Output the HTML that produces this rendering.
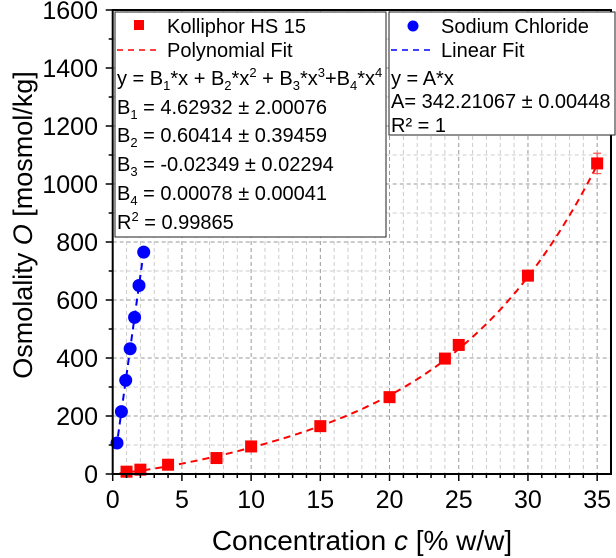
<!DOCTYPE html>
<html><head><meta charset="utf-8">
<style>
html,body{margin:0;padding:0;background:#fff;}
svg{display:block;font-family:"Liberation Sans",Arial,sans-serif;}
</style></head>
<body>
<svg id="chart" width="616" height="558" viewBox="0 0 616 558">
<g id="grid"></g>
<g id="fits"></g>
<g id="marks"></g>
<g id="axes"></g>
<g id="legend1">
  <rect x="115" y="12" width="271" height="225" fill="#fff" stroke="#222" stroke-width="1"/>
  <rect x="134" y="20" width="10" height="10" fill="#f00"/>
  <text x="167" y="33" font-size="20">Kolliphor HS 15</text>
  <line x1="117" y1="50" x2="157" y2="50" stroke="#f00" stroke-width="1.5" stroke-dasharray="6,5"/>
  <text x="167" y="57" font-size="20">Polynomial Fit</text>
  <text x="117" y="85" font-size="20">y = B<tspan font-size="13" dy="5">1</tspan><tspan dy="-5">*x + B</tspan><tspan font-size="13" dy="5">2</tspan><tspan dy="-5">*x</tspan><tspan font-size="13" dy="-8">2</tspan><tspan dy="8"> + B</tspan><tspan font-size="13" dy="5">3</tspan><tspan dy="-5">*x</tspan><tspan font-size="13" dy="-8">3</tspan><tspan dy="8">+B</tspan><tspan font-size="13" dy="5">4</tspan><tspan dy="-5">*x</tspan><tspan font-size="13" dy="-8">4</tspan></text>
  <text x="117" y="114" font-size="20">B<tspan font-size="13" dy="5">1</tspan><tspan dy="-5"> = 4.62932 ± 2.00076</tspan></text>
  <text x="117" y="142" font-size="20">B<tspan font-size="13" dy="5">2</tspan><tspan dy="-5"> = 0.60414 ± 0.39459</tspan></text>
  <text x="117" y="171" font-size="20">B<tspan font-size="13" dy="5">3</tspan><tspan dy="-5"> = -0.02349 ± 0.02294</tspan></text>
  <text x="117" y="200" font-size="20">B<tspan font-size="13" dy="5">4</tspan><tspan dy="-5"> = 0.00078 ± 0.00041</tspan></text>
  <text x="117" y="229" font-size="20">R<tspan font-size="13" dy="-8">2</tspan><tspan dy="8"> = 0.99865</tspan></text>
</g>
<g id="legend2">
  <rect x="389" y="12" width="226" height="123" fill="#fff" stroke="#222" stroke-width="1"/>
  <circle cx="413" cy="26" r="5.5" fill="#00f"/>
  <text x="441" y="33" font-size="20">Sodium Chloride</text>
  <line x1="391" y1="50" x2="431" y2="50" stroke="#00f" stroke-width="1.5" stroke-dasharray="6,5"/>
  <text x="441" y="57" font-size="20">Linear Fit</text>
  <text x="391" y="85" font-size="20">y = A*x</text>
  <text x="391" y="108" font-size="20">A= 342.21067 ± 0.00448</text>
  <text x="391" y="132" font-size="20">R² = 1</text>
</g>
<text x="362" y="550" font-size="28" text-anchor="middle">Concentration <tspan font-style="italic">c</tspan> [% w/w]</text>
<text transform="translate(32,225) rotate(-90)" font-size="27" text-anchor="middle">Osmolality <tspan font-style="italic">O</tspan> [mosmol/kg]</text>
</svg>
<script>
const kolX = [1, 2, 4, 7.5, 10, 15, 20, 24, 25, 30, 35];
const kolY = [8, 15, 32, 55, 95, 165, 265, 398, 445, 684, 1071];
const kolErr = [0, 0, 0, 0, 0, 0, 0, 0, 0, 0, 35];
const naclX = [0.31, 0.63, 0.94, 1.26, 1.58, 1.90, 2.24];
const naclY = [107, 215, 323, 432, 540, 650, 765];
const polyB = [4.62932, 0.60414, -0.02349, 0.00078];
const linA = 342.21067;
const xTicks = [0, 5, 10, 15, 20, 25, 30, 35];
const yTicks = [0, 200, 400, 600, 800, 1000, 1200, 1400, 1600];

const X0 = 112.7, X1 = 611, Y0 = 474, Y1 = 10;
const xMin = 0, xMax = 36, yMin = 0, yMax = 1600;
const sx = v => X0 + (v - xMin) / (xMax - xMin) * (X1 - X0);
const sy = v => Y0 - (v - yMin) / (yMax - yMin) * (Y0 - Y1);
const NS = 'http://www.w3.org/2000/svg';
function mk(parent, tag, attrs){const e=document.createElementNS(NS,tag);for(const k in attrs)e.setAttribute(k,attrs[k]);parent.appendChild(e);return e;}

const grid = document.getElementById('grid');
for (let v = 1; v <= 35; v++) {
  const major = v % 5 === 0;
  const gl = mk(grid,'line',{x1:sx(v),x2:sx(v),y1:Y1,y2:Y0,stroke:major?'#999':'#ccc','stroke-width':1,'stroke-dasharray':'4,3'});
  
  
}
for (let v = 100; v < 1600; v += 100) {
  const major = v % 200 === 0;
  const gl = mk(grid,'line',{x1:X0,x2:X1,y1:sy(v),y2:sy(v),stroke:major?'#999':'#ccc','stroke-width':1,'stroke-dasharray':'4,3'});
  
  
}

const fits = document.getElementById('fits');
let pts = [];
for (let i = 0; i <= 100; i++) {
  const x = 0.5 + (35 - 0.5) * i / 100;
  const y = polyB[0]*x + polyB[1]*x*x + polyB[2]*x*x*x + polyB[3]*x*x*x*x;
  pts.push(sx(x).toFixed(1) + ',' + sy(y).toFixed(1));
}
const pf = mk(fits,'polyline',{points:pts.join(' '),fill:'none',stroke:'#f00','stroke-width':2,'stroke-dasharray':'7,5'});


const lxs = naclX[0] - 0.05, lxe = naclX[naclX.length - 1];
const lf = mk(fits,'line',{x1:sx(lxs),y1:sy(linA*lxs),x2:sx(lxe),y2:sy(linA*lxe),stroke:'#00f','stroke-width':2,'stroke-dasharray':'7,5'});



const marks = document.getElementById('marks');
kolX.forEach((x, i) => {
  const cx = sx(x), cy = sy(kolY[i]);
  if (kolErr[i] > 0) {
    const t = sy(kolY[i] + kolErr[i]), b = sy(kolY[i] - kolErr[i]);
    const eb = mk(marks,'path',{d:`M${cx},${t}V${b}M${cx-4},${t}H${cx+4}M${cx-4},${b}H${cx+4}`,stroke:'#f55','stroke-width':1.2,fill:'none'});
    
    
  }
  const r = mk(marks,'rect',{x:cx-6,y:cy-6,width:12,height:12,fill:'#f00'});
  
  
});
naclX.forEach((x, i) => {
  const c = mk(marks,'circle',{cx:sx(x),cy:sy(naclY[i]),r:6.5,fill:'#00f'});
  
  
});

const axes = document.getElementById('axes');
const frame = mk(axes,'rect',{x:X0,y:Y1,width:X1-X0,height:Y0-Y1,fill:'none',stroke:'#000','stroke-width':2});


for (let v = 0; v <= 35; v++) {
  const major = v % 5 === 0;
  const t = mk(axes,'line',{x1:sx(v),x2:sx(v),y1:Y0,y2:Y0+(major?7:4),stroke:'#000','stroke-width':1.5});
  
  
}
xTicks.forEach(v => {
  const l = mk(axes,'text',{x:sx(v),y:Y0+34,'font-size':25,'text-anchor':'middle'});
  l.textContent = v;
  
  
});
for (let v = 0; v <= 1600; v += 100) {
  const major = v % 200 === 0;
  const t = mk(axes,'line',{x1:X0,x2:X0-(major?7:4),y1:sy(v),y2:sy(v),stroke:'#000','stroke-width':1.5});
  
  
}
yTicks.forEach(v => {
  const l = mk(axes,'text',{x:98,y:sy(v)+9,'font-size':25,'text-anchor':'end'});
  l.textContent = v;
  
  
});
</script>
</body></html>
